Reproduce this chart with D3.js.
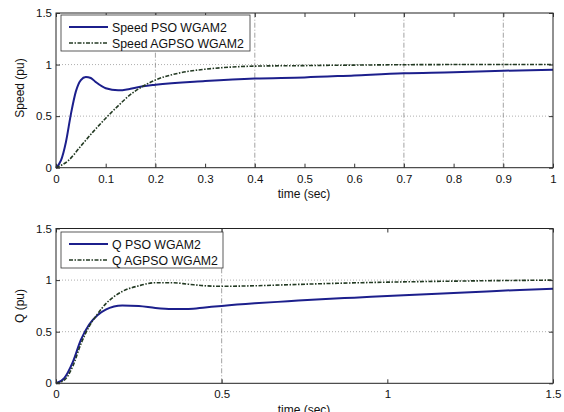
<!DOCTYPE html>
<html><head><meta charset="utf-8">
<script src="https://cdn.jsdelivr.net/npm/d3@7"></script>
<style>body{margin:0;background:#fff}svg{display:block}</style>
</head><body>
<svg id="c" width="564" height="412"></svg>
<script>
// ---- data ----
const speedT      = [0,0.01,0.02,0.03,0.04,0.05,0.06,0.07,0.08,0.1,0.125,0.15,0.175,0.2,0.3,0.4,0.5,0.6,0.7,0.8,0.9,1.0];
const speedPSO    = [0,0.07,0.25,0.52,0.74,0.85,0.88,0.87,0.83,0.77,0.75,0.765,0.79,0.805,0.84,0.865,0.875,0.895,0.915,0.925,0.94,0.95];
const speedT2     = [0,0.025,0.05,0.075,0.1,0.125,0.15,0.175,0.2,0.25,0.3,0.35,0.4,0.5,0.6,0.8,1.0];
const speedAGPSO  = [0,0.07,0.21,0.35,0.48,0.6,0.71,0.79,0.85,0.92,0.955,0.975,0.985,0.99,0.995,1.0,1.0];
const qT          = [0,0.025,0.05,0.075,0.1,0.125,0.15,0.175,0.2,0.25,0.3,0.35,0.4,0.45,0.5,0.6,0.7,0.8,0.9,1.0,1.1,1.2,1.3,1.4,1.5];
const qPSO        = [0,0.05,0.2,0.42,0.57,0.66,0.715,0.745,0.755,0.75,0.73,0.72,0.72,0.735,0.75,0.775,0.795,0.815,0.83,0.845,0.86,0.875,0.89,0.905,0.915];
const qT2         = [0,0.025,0.05,0.075,0.1,0.125,0.15,0.175,0.2,0.25,0.3,0.35,0.4,0.45,0.5,0.6,0.7,0.8,1.0,1.2,1.5];
const qAGPSO      = [0,0.03,0.16,0.38,0.55,0.67,0.77,0.84,0.89,0.945,0.975,0.975,0.96,0.945,0.94,0.945,0.955,0.965,0.98,0.99,1.0];
const speedXTicks = [0,0.1,0.2,0.3,0.4,0.5,0.6,0.7,0.8,0.9,1];
const speedXGrid  = [0.2,0.4,0.7,0.9];
const qXTicks     = [0,0.5,1,1.5];
const qXGrid      = [0.5];
const yTicks      = [0,0.5,1,1.5];
const yGrid       = [0.5,1];
const speedLegend = ["Speed PSO WGAM2","Speed AGPSO WGAM2"];
const qLegend     = ["Q PSO WGAM2","Q AGPSO WGAM2"];

const svg = d3.select("#c");
const FONT = "Liberation Sans, Arial, sans-serif";
const BLUE = "#1c1f8c", GREEN = "#233a23";

function panel(o){
  const x = d3.scaleLinear().domain(o.xd).range([56,553]);
  const y = d3.scaleLinear().domain([0,1.5]).range([o.y0,o.y15]);
  const g = svg.append("g");
  // grid
  g.selectAll(".hg").data(yGrid).join("line")
    .attr("x1",x.range()[0]).attr("x2",x.range()[1])
    .attr("y1",d=>y(d)).attr("y2",d=>y(d))
    .attr("stroke","#9a9a9a").attr("stroke-width",0.8).attr("stroke-dasharray","1,2");
  g.selectAll(".vg").data(o.grid).join("line")
    .attr("x1",d=>x(d)).attr("x2",d=>x(d))
    .attr("y1",y(0)).attr("y2",y(1.5))
    .attr("stroke","#8a8a8a").attr("stroke-width",0.8).attr("stroke-dasharray","5,2,1,2");
  // curves
  const line = d3.line().x(d=>x(d[0])).y(d=>y(d[1])).curve(d3.curveMonotoneX);
  g.append("path").datum(o.t1.map((t,i)=>[t,o.v1[i]])).attr("d",line)
    .attr("fill","none").attr("stroke",BLUE).attr("stroke-width",2);
  g.append("path").datum(o.t2.map((t,i)=>[t,o.v2[i]])).attr("d",line)
    .attr("fill","none").attr("stroke",GREEN).attr("stroke-width",1.6).attr("stroke-dasharray","4,1.5,1.5,1.5");
  // frame
  g.append("rect").attr("x",56).attr("y",y(1.5)).attr("width",497).attr("height",y(0)-y(1.5))
    .attr("fill","none").attr("stroke","#222").attr("stroke-width",1);
  // ticks inward
  const ax = d3.axisBottom(x).tickValues(o.ticks).tickSize(-4).tickPadding(7).tickFormat(d3.format(""));
  const axG = g.append("g").attr("transform",`translate(0,${y(0)})`).call(ax);
  const axT = g.append("g").attr("transform",`translate(0,${y(1.5)})`).call(d3.axisTop(x).tickValues(o.ticks).tickSize(-4).tickFormat(""));
  const ay = d3.axisLeft(y).tickValues(yTicks).tickSize(-4).tickPadding(4).tickFormat(d3.format(""));
  const ayG = g.append("g").attr("transform","translate(56,0)").call(ay);
  const ayR = g.append("g").attr("transform","translate(553,0)").call(d3.axisRight(y).tickValues(yTicks).tickSize(-4).tickFormat(""));
  [axG,axT,ayG,ayR].forEach(a=>{a.select(".domain").remove();a.selectAll("line").attr("stroke","#333");
    a.selectAll("text").attr("font-family",FONT).attr("font-size",11.5).attr("fill","#111");});
  // labels
  g.append("text").attr("x",304).attr("y",o.xlabY).attr("text-anchor","middle")
    .attr("font-family",FONT).attr("font-size",12).attr("fill","#111").text("time (sec)");
  g.append("text").attr("transform",`translate(24,${o.ylabC}) rotate(-90)`).attr("text-anchor","middle")
    .attr("font-family",FONT).attr("font-size",12).attr("fill","#111").text(o.ylab);
  // legend
  const lg = g.append("g").attr("transform",`translate(61,${o.legY})`);
  lg.append("rect").attr("width",o.legW).attr("height",36).attr("fill","#fff").attr("stroke","#333").attr("stroke-width",0.8);
  o.legend.forEach((s,i)=>{
    const ly = 12 + i*16;
    lg.append("line").attr("x1",8).attr("x2",47).attr("y1",ly).attr("y2",ly)
      .attr("stroke",i?GREEN:BLUE).attr("stroke-width",i?1.6:2).attr("stroke-dasharray",i?"4,1.5,1.5,1.5":null);
    lg.append("text").attr("x",51).attr("y",ly+4.5).attr("font-family",FONT).attr("font-size",12.3).attr("fill","#111").text(s);
  });
}

panel({xd:[0,1],y0:167.7,y15:13,ticks:speedXTicks,grid:speedXGrid,t1:speedT,v1:speedPSO,t2:speedT2,v2:speedAGPSO,
  xlabY:198,ylab:"Speed (pu)",ylabC:88,legY:15,legW:189,legend:speedLegend});
panel({xd:[0,1.5],y0:383.3,y15:228.5,ticks:qXTicks,grid:qXGrid,t1:qT,v1:qPSO,t2:qT2,v2:qAGPSO,
  xlabY:414,ylab:"Q (pu)",ylabC:306,legY:232,legW:162,legend:qLegend});
</script>
</body></html>
